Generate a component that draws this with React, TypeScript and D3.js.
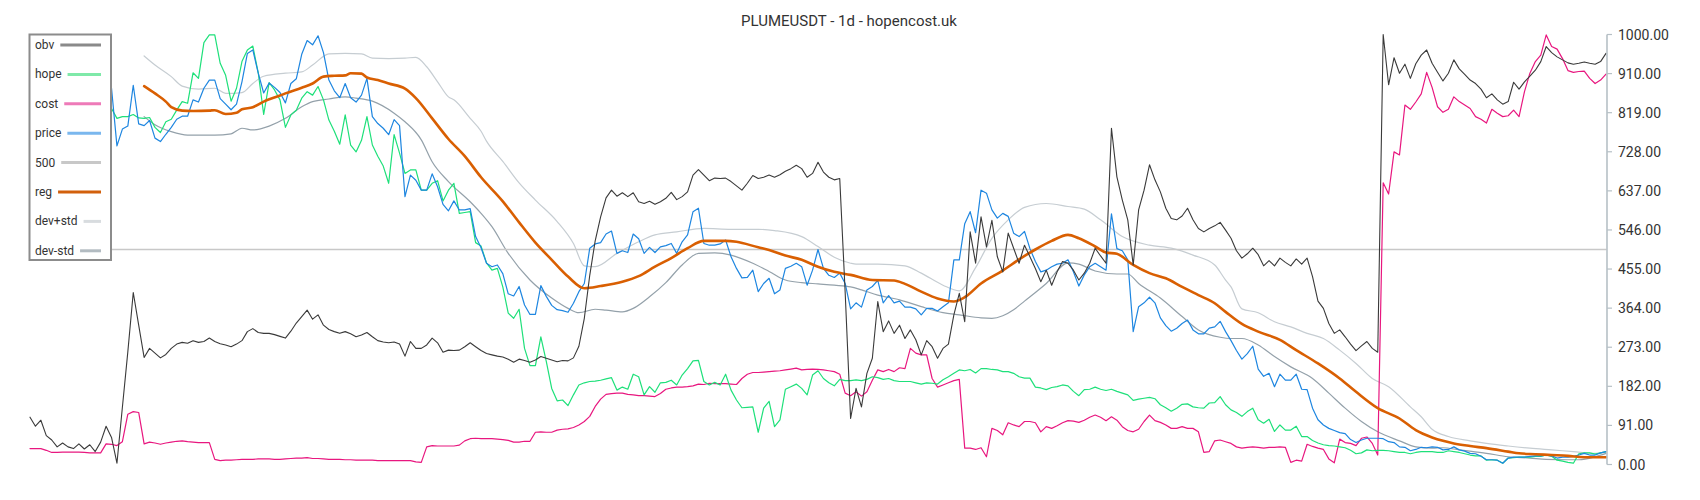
import React from "react";
import * as d3 from "d3";

const TITLE = "PLUMEUSDT - 1d - hopencost.uk";
const DAYS = 291;
const LEVEL_500 = 500;
const Y_MAX = 1000;
const TICK_LABELS = ["0.00", "91.00", "182.00", "273.00", "364.00", "455.00", "546.00", "637.00", "728.00", "819.00", "910.00", "1000.00"];
const LEGEND_LABELS = ["obv", "hope", "cost", "price", "500", "reg", "dev+std", "dev-std"];

const OBV = [
  110, 89, 103, 67, 57, 41, 50, 41, 37, 48,
  36, 46, 30, 52, 89, 63, 3, 133, 262, 400,
  324, 249, 270, 259, 248, 256, 270, 280, 284, 282,
  288, 284, 286, 294, 286, 281, 278, 274, 280, 288,
  309, 316, 307, 305, 305, 302, 298, 294, 310, 329,
  344, 359, 338, 348, 324, 314, 309, 305, 309, 304,
  297, 301, 307, 297, 288, 285, 283, 285, 280, 252,
  286, 270, 270, 278, 294, 283, 261, 266, 265, 266,
  274, 283, 274, 265, 258, 255, 252, 250, 245, 238,
  245, 242, 238, 243, 251, 247, 243, 239, 242, 241,
  248, 275, 340, 440, 520, 576, 620, 638, 624, 632,
  623, 632, 611, 607, 612, 605, 611, 619, 633, 616,
  623, 634, 673, 686, 673, 660, 666, 665, 666, 658,
  648, 638, 654, 672, 665, 668, 673, 668, 674, 682,
  688, 696, 688, 668, 677, 703, 680, 668, 662, 665,
  400, 107, 177, 134, 212, 247, 379, 309, 334, 305,
  324, 293, 313, 290, 255, 288, 274, 247, 270, 280,
  348, 398, 332, 541, 468, 576, 506, 568, 483, 448,
  538, 503, 468, 510, 483, 456, 425, 452, 417, 448,
  472, 468, 452, 429, 445, 468, 503, 485, 468, 782,
  669, 615, 569, 464, 592, 638, 697, 662, 634, 596,
  572, 569, 578, 596, 569, 549, 541, 549, 555, 563,
  545, 526, 497, 480, 490, 503, 488, 462, 474, 462,
  480, 470, 462, 478, 466, 480, 437, 380, 363, 328,
  305, 313, 297, 280, 265, 276, 286, 270, 261, 1000,
  883, 946, 910, 931, 898, 932, 952, 964, 933, 912,
  892, 910, 941, 920, 907, 894, 886, 873, 853, 862,
  848, 838, 844, 889, 873, 890, 903, 917, 937, 972,
  958, 948, 941, 934, 931, 933, 936, 933, 931, 937,
  956,
];

const COST = [
  37, 37, 37, 33, 28, 28, 29, 29, 29, 29,
  28, 27, 27, 27, 48, 47, 44, 53, 117, 123,
  121, 48, 52, 50, 47, 50, 52, 54, 55, 53,
  52, 51, 51, 51, 12, 9, 10, 10, 11, 12,
  12, 12, 13, 13, 13, 12, 12, 13, 14, 15,
  15, 16, 14, 14, 13, 12, 12, 12, 11, 11,
  10, 10, 10, 10, 9, 9, 9, 9, 9, 9,
  9, 6, 5, 41, 44, 43, 43, 43, 43, 45,
  55, 60, 61, 60, 60, 60, 59, 58, 56, 52,
  52, 54, 54, 75, 76, 75, 75, 80, 82, 83,
  86, 92, 100, 112, 135, 152, 163, 165, 166, 166,
  163, 162, 160, 160, 159, 158, 165, 175, 178, 180,
  180, 181, 183, 187, 186, 189, 188, 188, 188, 187,
  186, 200, 210, 214, 214, 215, 216, 217, 218, 220,
  222, 224, 220, 221, 222, 221, 220, 218, 216, 210,
  166, 160, 169, 159, 169, 196, 220, 216, 221, 216,
  225, 223, 270, 259, 255, 255, 200, 180, 185, 190,
  195, 198, 38, 38, 35, 39, 18, 84, 79, 69,
  97, 92, 88, 100, 100, 97, 76, 88, 84, 90,
  97, 102, 101, 98, 103, 110, 115, 110, 102, 111,
  103, 88, 79, 76, 82, 100, 115, 102, 98, 92,
  84, 84, 88, 84, 84, 76, 28, 30, 55, 57,
  53, 49, 41, 38, 40, 41, 40, 38, 40, 40,
  41, 40, 5, 10, 8, 47, 42, 38, 35, 13,
  4, 59, 51, 49, 44, 61, 64, 49, 22, 655,
  629, 727, 720, 836, 826, 843, 862, 912, 877, 832,
  819, 826, 855, 844, 836, 828, 809, 803, 794, 826,
  817, 809, 811, 824, 809, 867, 910, 937, 952, 999,
  972, 966, 944, 916, 912, 914, 915, 898, 886, 894,
  908,
];

const PRICE_FIRST_DAY = 14;
const PRICE = [
  850, 875, 741, 780, 787, 882, 792, 788, 800, 759,
  751, 768, 784, 803, 810, 810, 848, 843, 875, 894,
  894, 851, 838, 825, 838, 890, 956, 964, 910, 864,
  887, 877, 865, 841, 886, 897, 954, 986, 976, 997,
  958, 894, 869, 853, 886, 853, 843, 859, 898, 809,
  793, 782, 767, 802, 788, 623, 673, 661, 638, 638,
  676, 646, 605, 590, 613, 592, 592, 595, 530, 504,
  468, 460, 464, 444, 397, 392, 414, 371, 349, 349,
  416, 391, 370, 360, 358, 354, 375, 402, 421, 503,
  513, 516, 536, 543, 491, 497, 493, 536, 525, 491,
  505, 493, 506, 509, 514, 491, 518, 534, 588, 596,
  514, 510, 510, 513, 522, 483, 456, 434, 435, 452,
  402, 421, 433, 397, 406, 456, 461, 468, 460, 417,
  452, 500, 456, 440, 435, 445, 421, 362, 376, 366,
  406, 414, 428, 376, 393, 376, 380, 366, 366, 362,
  348, 363, 363, 357, 367, 376, 476, 476, 560, 588,
  539, 638, 631, 592, 573, 584, 577, 538, 530, 542,
  502, 472, 448, 452, 460, 466, 468, 476, 448, 415,
  441, 460, 468, 460, 452, 583, 502, 497, 476, 309,
  367, 376, 389, 376, 341, 323, 310, 317, 328, 336,
  313, 304, 304, 317, 320, 333, 309, 288, 265, 245,
  258, 275, 222, 205, 212, 181, 210, 196, 196, 210,
  175, 174, 131, 104, 92, 84, 79, 74, 72, 58,
  51, 57, 61, 61, 61, 60, 53, 51, 41, 40,
  32, 35, 40, 39, 41, 40, 34, 35, 41, 34,
  31, 26, 25, 19, 11, 11, 10, 3, 15, 17,
  17, 17, 19, 20, 20, 22, 20, 15, 17, 17,
  19, 22, 26, 22, 22, 27, 30,
];

const HOPE_FIRST_DAY = 14;
const HOPE = [
  820, 828, 805, 809, 809, 814, 806, 805, 807, 784,
  772, 797, 803, 824, 844, 840, 911, 898, 981, 999,
  999, 933, 905, 845, 875, 937, 964, 973, 911, 814,
  888, 871, 848, 784, 813, 824, 852, 867, 859, 879,
  848, 801, 775, 745, 813, 743, 727, 754, 809, 743,
  717, 694, 654, 767, 724, 677, 685, 685, 638, 638,
  654, 660, 613, 638, 654, 584, 586, 588, 516, 508,
  469, 452, 456, 413, 352, 340, 361, 270, 230, 230,
  297, 240, 177, 148, 150, 137, 162, 185, 190, 193,
  194, 196, 199, 202, 173, 180, 175, 210, 204, 162,
  181, 168, 190, 191, 196, 185, 208, 223, 241, 242,
  193, 185, 191, 185, 210, 173, 150, 132, 133, 134,
  75, 131, 147, 88, 104, 175, 181, 187, 177, 162,
  208, 218, 200, 190, 183, 198, 195, 195, 197, 195,
  198, 204, 202, 198, 200, 195, 193, 193, 193, 190,
  187, 190, 189, 187, 197, 204, 212, 220, 218, 221,
  213, 223, 223, 221, 220, 216, 216, 212, 204, 201,
  201, 180, 178, 174, 179, 181, 185, 183, 170, 160,
  174, 175, 180, 175, 172, 175, 170, 166, 162, 149,
  152, 154, 156, 153, 139, 132, 124, 131, 140, 141,
  134, 132, 131, 143, 144, 158, 139, 127, 121, 112,
  123, 131, 104, 96, 105, 77, 92, 80, 80, 89,
  65, 65, 56, 50, 46, 44, 43, 41, 39, 33,
  25, 27, 34, 32, 33, 33, 32, 30, 28, 28,
  25, 28, 30, 30, 30, 28, 28, 32, 30, 28,
  25, 22, 20, 20, 10, 11, 10, 3, 15, 16,
  17, 17, 17, 19, 19, 22, 19, 10, 8, 5,
  3, 25, 27, 27, 24, 27, 30,
];

// [day, value] samples
const REG: [number, number][] = [
  [21, 880], [23, 863], [25, 844], [26, 831], [28, 823], [30, 822], [33, 823], [34, 824], [36, 815], [38, 818],
  [39, 826], [41, 831], [43, 844], [46, 858], [47, 863], [50, 876], [52, 886], [54, 902], [56, 904], [58, 905],
  [59, 910], [61, 909], [62, 900], [64, 894], [66, 886], [69, 874], [71, 852], [74, 805], [77, 757], [80, 717],
  [83, 668], [87, 612], [90, 563], [93, 516], [96, 476], [99, 437], [102, 410], [105, 415], [109, 425], [112, 438],
  [115, 460], [118, 480], [121, 503], [124, 520], [128, 520], [130, 518], [134, 505], [136, 499], [139, 486], [142, 476],
  [145, 460], [148, 448], [151, 441], [155, 429], [159, 428], [161, 420], [164, 402], [167, 386], [170, 379], [172, 389],
  [175, 421], [179, 451], [182, 477], [185, 500], [188, 520], [191, 534], [193, 526], [196, 507], [198, 493], [200, 490],
  [203, 464], [206, 445], [209, 433], [212, 413], [215, 394], [218, 375], [220, 355], [223, 327], [226, 309], [230, 290],
  [233, 266], [237, 235], [241, 200], [244, 169], [248, 131], [252, 107], [255, 80], [258, 63], [260, 55], [262, 49],
  [265, 43], [268, 38], [272, 30], [274, 26], [277, 24], [280, 22], [283, 20], [286, 17], [290, 17],
];

const DEV_PLUS: [number, number][] = [
  [21, 950], [23, 929], [26, 902], [28, 880], [31, 873], [34, 875], [36, 863], [39, 865], [41, 886], [43, 903],
  [47, 910], [50, 913], [52, 929], [55, 955], [58, 956], [61, 955], [63, 945], [66, 944], [69, 945], [71, 947],
  [73, 925], [75, 890], [77, 855], [78, 848], [81, 805], [83, 775], [84, 752], [87, 705], [90, 655], [93, 615],
  [97, 565], [100, 514], [102, 462], [104, 460], [108, 491], [112, 518], [115, 534], [119, 541], [124, 549], [129, 547],
  [134, 547], [137, 544], [142, 530], [145, 507], [148, 482], [151, 468], [152, 466], [156, 466], [161, 462], [164, 445],
  [168, 417], [171, 404], [174, 458], [177, 526], [180, 569], [183, 598], [187, 607], [191, 600], [194, 594], [197, 569],
  [201, 530], [206, 510], [210, 503], [214, 487], [218, 464], [220, 429], [221, 413], [223, 362], [226, 353], [229, 332],
  [232, 320], [235, 305], [238, 293], [241, 266], [244, 235], [247, 200], [250, 181], [254, 134], [256, 111], [258, 82],
  [261, 65], [265, 55], [268, 49], [272, 43], [276, 38], [280, 34], [284, 30], [288, 26], [290, 28],
];

const DEV_MINUS: [number, number][] = [
  [21, 809], [23, 790], [26, 774], [29, 766], [34, 766], [37, 769], [39, 782], [41, 778], [44, 787], [47, 805],
  [50, 832], [52, 844], [55, 850], [58, 855], [60, 852], [63, 845], [67, 817], [69, 797], [72, 755], [74, 704],
  [77, 658], [81, 611], [83, 584], [85, 553], [88, 491], [92, 429], [96, 387], [99, 363], [101, 353], [104, 361],
  [106, 359], [109, 355], [111, 363], [114, 390], [117, 423], [120, 464], [123, 491], [126, 492], [129, 487], [133, 468],
  [136, 449], [139, 429], [142, 423], [145, 420], [148, 417], [151, 413], [153, 406], [156, 394], [160, 383], [164, 367],
  [168, 353], [171, 348], [175, 341], [177, 340], [179, 346], [181, 360], [183, 380], [187, 421], [191, 469], [193, 466], [196, 450],
  [200, 443], [202, 443], [204, 421], [208, 387], [212, 344], [215, 313], [219, 296], [221, 293], [223, 293], [226, 278],
  [229, 251], [232, 227], [236, 200], [239, 166], [242, 131], [245, 100], [248, 76], [252, 55], [255, 41], [258, 38],
  [260, 39], [263, 34], [268, 26], [272, 18], [276, 15], [279, 12], [283, 11], [285, 11], [288, 18], [290, 26],
];

const FONT = "Roboto, 'Noto Sans', sans-serif";

function measureText(s: string, font: string): number {
  const c = document.createElement("canvas").getContext("2d");
  if (!c) return s.length * 6;
  c.font = font;
  return c.measureText(s).width;
}

export default function App() {
  const W = 1700;
  const H = 500;
  const x = d3.scaleLinear().domain([0, DAYS - 1]).range([30, 1606]);
  const y = d3.scaleLinear().domain([0, Y_MAX]).range([464.5, 34.5]);
  const axisX = 1607;

  const linear = d3.line<[number, number]>().x((d) => x(d[0])).y((d) => y(d[1]));
  const smooth = d3
    .line<[number, number]>()
    .x((d) => x(d[0]))
    .y((d) => y(d[1]))
    .curve(d3.curveMonotoneX);
  const pairs = (arr: number[], start: number) => arr.map((v, i) => [start + i, v] as [number, number]);

  const series = [
    { label: "obv", color: "#3a3a3a", legend: "#8a8a8a", width: 1.1, d: linear(pairs(OBV, 0)) },
    { label: "hope", color: "#1ee07a", legend: "#7fe9a9", width: 1.2, d: linear(pairs(HOPE, HOPE_FIRST_DAY)) },
    { label: "cost", color: "#e8177f", legend: "#ee7ab8", width: 1.2, d: linear(pairs(COST, 0)) },
    { label: "price", color: "#1e86e0", legend: "#7ab7ee", width: 1.2, d: linear(pairs(PRICE, PRICE_FIRST_DAY)) },
    { label: "500", color: "#c8c8c8", legend: "#c8c8c8", width: 1.6, d: linear([[0, LEVEL_500], [DAYS - 1, LEVEL_500]]) },
    { label: "reg", color: "#d95f02", legend: "#d2600c", width: 2.6, d: smooth(REG) },
    { label: "dev+std", color: "#c6cdd2", legend: "#d8dcdf", width: 1.2, d: smooth(DEV_PLUS) },
    { label: "dev-std", color: "#94a1aa", legend: "#b2bbc1", width: 1.2, d: smooth(DEV_MINUS) },
  ];
  const byLabel: Record<string, (typeof series)[number]> = {};
  series.forEach((s) => (byLabel[s.label] = s));
  const drawOrder = ["dev+std", "dev-std", "500", "cost", "hope", "price", "reg", "obv"];

  const ticks = TICK_LABELS.map((t, i) => ({ label: t, v: (i * Y_MAX) / (TICK_LABELS.length - 1) }));
  const legendSize = 12;
  const legendFont = `${legendSize}px ${FONT}`;

  return (
    <>
      <style>{`body{margin:0;background:#fff}`}</style>
      <svg width={W} height={H} style={{ display: "block", background: "#fff" }} fontFamily={FONT}>
        <text x={849} y={26} textAnchor="middle" fontSize={15} fill="#333">
          {TITLE}
        </text>

        {drawOrder.map((k) => {
          const s = byLabel[k];
          return (
            <path
              key={k}
              d={s.d || ""}
              fill="none"
              stroke={s.color}
              strokeWidth={s.width}
              strokeLinejoin="round"
              strokeLinecap="round"
            />
          );
        })}

        <line x1={axisX} x2={axisX} y1={y(0)} y2={y(Y_MAX)} stroke="#b6c0c6" strokeWidth={1.6} />
        {ticks.map((t) => (
          <g key={t.label}>
            <line x1={axisX} x2={axisX + 5} y1={y(t.v)} y2={y(t.v)} stroke="#b6c0c6" strokeWidth={1.2} />
            <text x={axisX + 11} y={y(t.v)} dominantBaseline="central" fontSize={14} fill="#333">
              {t.label}
            </text>
          </g>
        ))}

        <rect x={29.5} y={34.5} width={81.5} height={225.5} fill="#fff" stroke="#8c8c8c" strokeWidth={2} />
        {LEGEND_LABELS.map((lab, k) => {
          const cy = 45 + k * 29.4;
          const tw = measureText(lab, legendFont);
          const s = byLabel[lab];
          return (
            <g key={lab}>
              <text x={35} y={cy} dominantBaseline="central" fontSize={legendSize} fill="#333">
                {lab}
              </text>
              <line x1={35 + tw + 6} x2={101} y1={cy} y2={cy} stroke={s.legend} strokeWidth={3} />
            </g>
          );
        })}
      </svg>
    </>
  );
}
